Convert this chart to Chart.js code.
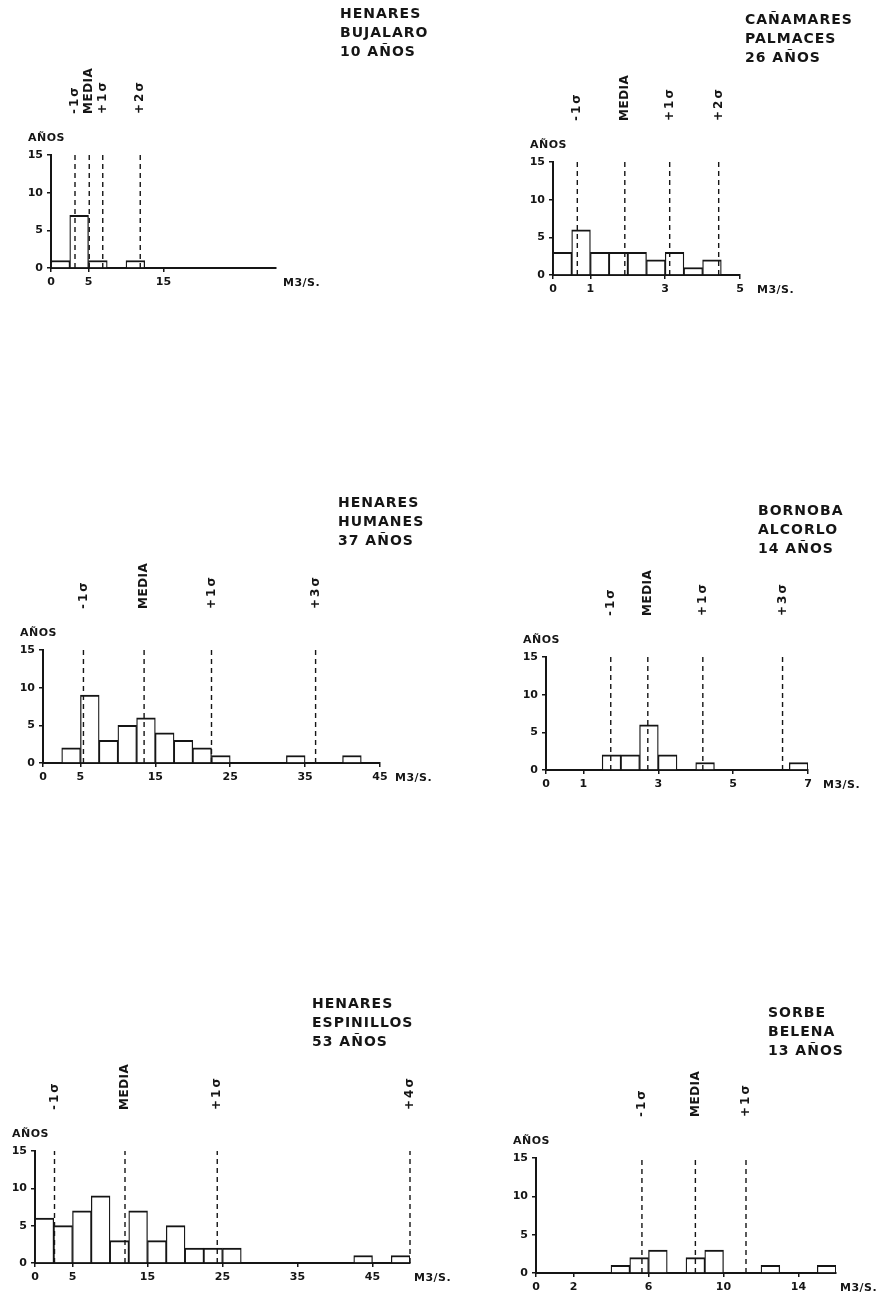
<!DOCTYPE html>
<html>
<head>
<meta charset="utf-8">
<script src="https://cdn.jsdelivr.net/npm/chart.js@4.4.1/dist/chart.umd.min.js"></script>
<style>
  body { margin: 0; background: #fff; }
  #page { position: relative; width: 878px; height: 1299px; overflow: hidden; }
  #page canvas { position: absolute; }
</style>
</head>
<body>
<div id="page"></div>
<script>
// Histogram data (bin start in M3/S, years per bin)
const bujalaroTitle = ['HENARES', 'BUJALARO', '10 AÑOS'];
const bujalaroBins = [0, 2.5, 5, 7.5, 10];
const bujalaroCounts = [1, 7, 1, 0, 1];
const bujalaroMarks = [3.2, 5.1, 6.9, 11.9];
const bujalaroMarkLabels = ['-1σ', 'MEDIA', '+1σ', '+2σ'];
const bujalaroTicks = [0, 5, 15];

const palmacesTitle = ['CAÑAMARES', 'PALMACES', '26 AÑOS'];
const palmacesBins = [0, 0.5, 1, 1.5, 2, 2.5, 3, 3.5, 4];
const palmacesCounts = [3, 6, 3, 3, 3, 2, 3, 1, 2];
const palmacesMarks = [0.65, 1.92, 3.12, 4.43];
const palmacesMarkLabels = ['-1σ', 'MEDIA', '+1σ', '+2σ'];
const palmacesTicks = [0, 1, 3, 5];

const humanesTitle = ['HENARES', 'HUMANES', '37 AÑOS'];
const humanesBins = [2.5, 5, 7.5, 10, 12.5, 15, 17.5, 20, 22.5, 25, 27.5, 30, 32.5, 35, 37.5, 40];
const humanesCounts = [2, 9, 3, 5, 6, 4, 3, 2, 1, 0, 0, 0, 1, 0, 0, 1];
const humanesMarks = [5.4, 13.5, 22.5, 36.4];
const humanesMarkLabels = ['-1σ', 'MEDIA', '+1σ', '+3σ'];
const humanesTicks = [0, 5, 15, 25, 35, 45];

const alcorloTitle = ['BORNOBA', 'ALCORLO', '14 AÑOS'];
const alcorloBins = [1.5, 2, 2.5, 3, 3.5, 4, 4.5, 5, 5.5, 6, 6.5];
const alcorloCounts = [2, 2, 6, 2, 0, 1, 0, 0, 0, 0, 1];
const alcorloMarks = [1.73, 2.72, 4.19, 6.32];
const alcorloMarkLabels = ['-1σ', 'MEDIA', '+1σ', '+3σ'];
const alcorloTicks = [0, 1, 3, 5, 7];

const espinillosTitle = ['HENARES', 'ESPINILLOS', '53 AÑOS'];
const espinillosBins = [0, 2.5, 5, 7.5, 10, 12.5, 15, 17.5, 20, 22.5, 25, 27.5, 30, 32.5, 35, 37.5, 40, 42.5, 45, 47.5];
const espinillosCounts = [6, 5, 7, 9, 3, 7, 3, 5, 2, 2, 2, 0, 0, 0, 0, 0, 0, 1, 0, 1];
const espinillosMarks = [2.6, 12.0, 24.3, 50];
const espinillosMarkLabels = ['-1σ', 'MEDIA', '+1σ', '+4σ'];
const espinillosTicks = [0, 5, 15, 25, 35, 45];

const belenaTitle = ['SORBE', 'BELENA', '13 AÑOS'];
const belenaBins = [4, 5, 6, 7, 8, 9, 10, 11, 12, 13, 14, 15];
const belenaCounts = [1, 2, 3, 0, 2, 3, 0, 0, 1, 0, 0, 1];
const belenaMarks = [5.65, 8.5, 11.2];
const belenaMarkLabels = ['-1σ', 'MEDIA', '+1σ'];
const belenaTicks = [0, 2, 6, 10, 14];

const yearTicks = [0, 5, 10, 15];

// Page layout: canvas box [left, top, w, h], chart area [x0, yTop, xEnd, yBottom] in page px
const panels = [
  { title: bujalaroTitle, bins: bujalaroBins, counts: bujalaroCounts, marks: bujalaroMarks, markLabels: bujalaroMarkLabels, ticks: bujalaroTicks, xMax: 30,
    box: [0, 0, 439, 310], area: [51, 155, 276, 268], titleAt: [340, 14], unitAt: 283 },
  { title: palmacesTitle, bins: palmacesBins, counts: palmacesCounts, marks: palmacesMarks, markLabels: palmacesMarkLabels, ticks: palmacesTicks, xMax: 5,
    box: [439, 0, 439, 310], area: [553, 162, 740, 275], titleAt: [745, 20], unitAt: 757 },
  { title: humanesTitle, bins: humanesBins, counts: humanesCounts, marks: humanesMarks, markLabels: humanesMarkLabels, ticks: humanesTicks, xMax: 45,
    box: [0, 480, 460, 320], area: [43, 650, 380, 763], titleAt: [338, 503], unitAt: 395 },
  { title: alcorloTitle, bins: alcorloBins, counts: alcorloCounts, marks: alcorloMarks, markLabels: alcorloMarkLabels, ticks: alcorloTicks, xMax: 7,
    box: [439, 480, 439, 320], area: [546, 657, 808, 770], titleAt: [758, 511], unitAt: 823 },
  { title: espinillosTitle, bins: espinillosBins, counts: espinillosCounts, marks: espinillosMarks, markLabels: espinillosMarkLabels, ticks: espinillosTicks, xMax: 50,
    box: [0, 990, 470, 309], area: [35, 1151, 410, 1263], titleAt: [312, 1004], unitAt: 414 },
  { title: belenaTitle, bins: belenaBins, counts: belenaCounts, marks: belenaMarks, markLabels: belenaMarkLabels, ticks: belenaTicks, xMax: 16,
    box: [439, 990, 439, 309], area: [536, 1158, 836, 1273], titleAt: [768, 1013], unitAt: 840 }
];

const Y_AXIS_W = 28;
const X_AXIS_H = 24;
const INK = '#151515';
const FONT = '"DejaVu Sans", sans-serif';

Chart.defaults.font.family = FONT;
Chart.defaults.font.size = 11;
Chart.defaults.font.weight = 'bold';
Chart.defaults.color = INK;

// Titles, rotated sigma labels, "AÑOS" and "M3/S." written around the axes
const annotate = {
  id: 'annotate',
  afterDraw(chart, args, opts) {
    const p = opts.panel;
    const ctx = chart.ctx;
    const ca = chart.chartArea;
    const xs = chart.scales.x;
    const bx = p.box[0], by = p.box[1];
    ctx.save();
    ctx.fillStyle = INK;
    ctx.textBaseline = 'middle';

    ctx.font = 'bold 14px ' + FONT;
    ctx.letterSpacing = '1px';
    p.title.forEach((line, i) => ctx.fillText(line, p.titleAt[0] - bx, p.titleAt[1] - by + i * 19));

    ctx.font = 'bold 11px ' + FONT;
    ctx.letterSpacing = '0.5px';
    ctx.fillText('AÑOS', ca.left - 23, ca.top - 17);
    ctx.fillText('M3/S.', p.unitAt - bx, ca.bottom + 15);

    p.marks.forEach((v, i) => {
      ctx.save();
      ctx.translate(xs.getPixelForValue(v), ca.top - 41);
      ctx.rotate(-Math.PI / 2);
      ctx.textAlign = 'left';
      ctx.font = 'bold 12px ' + FONT;
      ctx.letterSpacing = p.markLabels[i] === 'MEDIA' ? '0.5px' : '2px';
      ctx.fillText(p.markLabels[i], 0, 0);
      ctx.restore();
    });
    ctx.restore();
  }
};

const page = document.getElementById('page');

panels.forEach(p => {
  const [left, top, w, h] = p.box;
  const [x0, yTop, xEnd, y0] = p.area;
  const canvas = document.createElement('canvas');
  canvas.width = w;
  canvas.height = h;
  canvas.style.left = left + 'px';
  canvas.style.top = top + 'px';
  page.appendChild(canvas);

  const binWidth = p.bins[1] - p.bins[0];
  const datasets = [{
    type: 'bar',
    data: p.bins.map((b, i) => ({ x: b + binWidth / 2, y: p.counts[i] })),
    backgroundColor: '#fff',
    borderColor: INK,
    borderWidth: { top: 2, left: 1.3, right: 1.3, bottom: 0 },
    borderSkipped: 'start',
    barPercentage: 1,
    categoryPercentage: 1,
    order: 2
  }];
  p.marks.forEach(v => datasets.push({
    type: 'line',
    data: [{ x: v, y: 0 }, { x: v, y: 15 }],
    borderColor: INK,
    borderWidth: 1.4,
    borderDash: [5, 4],
    pointRadius: 0,
    clip: 4,
    order: 1
  }));

  new Chart(canvas, {
    type: 'bar',
    data: { datasets },
    options: {
      responsive: false,
      animation: false,
      devicePixelRatio: 1,
      layout: {
        padding: {
          left: x0 - left - Y_AXIS_W,
          top: yTop - top,
          right: left + w - xEnd,
          bottom: top + h - y0 - X_AXIS_H
        }
      },
      plugins: {
        legend: { display: false },
        tooltip: { enabled: false },
        annotate: { panel: p }
      },
      scales: {
        x: {
          type: 'linear',
          min: 0,
          max: p.xMax,
          offset: false,
          grid: { display: true, drawOnChartArea: false, offset: false, color: INK, lineWidth: 1.5, tickLength: 4 },
          border: { display: true, color: INK, width: 2 },
          ticks: { padding: 4, maxRotation: 0, autoSkip: false, callback: v => String(v) },
          afterBuildTicks: s => { s.ticks = p.ticks.map(v => ({ value: v })); },
          afterFit: s => { s.height = X_AXIS_H; }
        },
        y: {
          min: 0,
          max: 15,
          grid: { display: true, drawOnChartArea: false, color: INK, lineWidth: 1.5, tickLength: 4 },
          border: { display: true, color: INK, width: 2 },
          ticks: { padding: 4, callback: v => String(v) },
          afterBuildTicks: s => { s.ticks = yearTicks.map(v => ({ value: v })); },
          afterFit: s => { s.width = Y_AXIS_W; }
        }
      }
    },
    plugins: [annotate]
  });
});
</script>
</body>
</html>
